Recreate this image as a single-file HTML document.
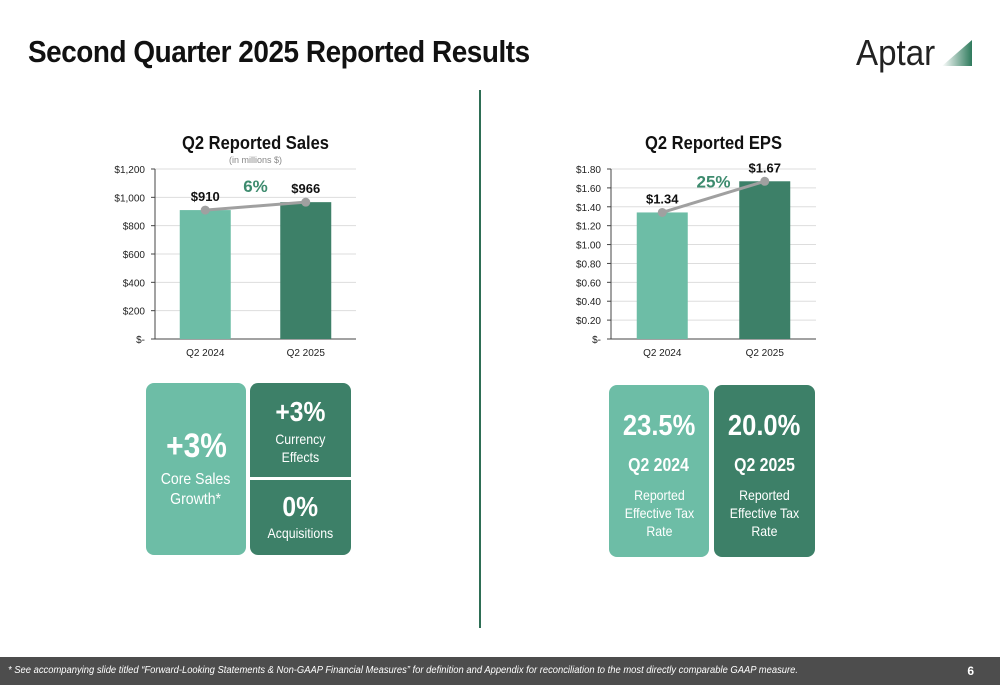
<!DOCTYPE html>
<html><head><meta charset="utf-8"><style>
body{margin:0;width:1000px;height:685px;position:relative;background:#fff;font-family:"Liberation Sans",sans-serif;overflow:hidden}
.abs{position:absolute}
.box{position:absolute;color:#fff;text-align:center;border-radius:8px}
.n{display:inline-block;transform:scaleX(0.88)}
</style></head><body>
<div class="abs" style="left:28px;top:34px;font-size:31px;font-weight:bold;color:#111;letter-spacing:-0.5px;transform:scaleX(0.9);transform-origin:0 0;white-space:nowrap">Second Quarter 2025 Reported Results</div>
<div class="abs" style="left:856px;top:30px;width:120px;height:45px">
<span style="font-size:36px;color:#222;position:absolute;left:0;top:2px;transform:scaleX(0.92);transform-origin:0 0">Aptar</span>
<svg style="position:absolute;left:86px;top:8px" width="33" height="30"><defs><linearGradient id="g" x1="0" x2="1"><stop offset="0" stop-color="#fff"/><stop offset="1" stop-color="#2e7a5c"/></linearGradient></defs><polygon points="0,28 30,2 30,28" fill="url(#g)"/></svg>
</div>
<div class="abs" style="left:479px;top:90px;width:2px;height:538px;background:#2e6e55"></div>

<svg class="abs" style="left:0;top:120px" width="1000" height="250" id="charts"></svg>

<div class="box" style="left:146px;top:383px;width:100px;height:172px;background:#6dbda6">
<div style="font-size:34px;font-weight:bold;margin-top:44px"><span class="n">+3%</span></div><div style="font-size:16px;margin-top:4px;line-height:20px"><span class="n">Core Sales<br>Growth*</span></div></div>
<div class="box" style="left:250px;top:383px;width:101px;height:94px;background:#3d8068;border-radius:8px 8px 0 0">
<div style="font-size:28px;font-weight:bold;margin-top:13px"><span class="n">+3%</span></div><div style="font-size:14px;line-height:18px;margin-top:2px"><span class="n">Currency<br>Effects</span></div></div>
<div class="box" style="left:250px;top:480px;width:101px;height:75px;background:#3d8068;border-radius:0 0 8px 8px">
<div style="font-size:28px;font-weight:bold;margin-top:11px"><span class="n">0%</span></div><div style="font-size:14px;margin-top:2px"><span class="n">Acquisitions</span></div></div>
<div class="box" style="left:609px;top:385px;width:100px;height:172px;background:#6dbda6">
<div style="font-size:29px;font-weight:bold;margin-top:25px"><span class="n">23.5%</span></div><div style="font-size:18px;font-weight:bold;margin-top:12px"><span class="n">Q2 2024</span></div><div style="font-size:14px;line-height:18px;margin-top:10px"><span class="n">Reported<br>Effective Tax<br>Rate</span></div></div>
<div class="box" style="left:714px;top:385px;width:101px;height:172px;background:#3d8068">
<div style="font-size:29px;font-weight:bold;margin-top:25px"><span class="n">20.0%</span></div><div style="font-size:18px;font-weight:bold;margin-top:12px"><span class="n">Q2 2025</span></div><div style="font-size:14px;line-height:18px;margin-top:10px"><span class="n">Reported<br>Effective Tax<br>Rate</span></div></div>

<div class="abs" style="left:0;top:657px;width:1000px;height:28px;background:#4d4d4d;color:#fff;font-size:10px;font-style:italic">
<span style="position:absolute;left:8px;top:8px;transform:scaleX(0.94);transform-origin:0 0;white-space:nowrap">* See accompanying slide titled “Forward-Looking Statements &amp; Non-GAAP Financial Measures” for definition and Appendix for reconciliation to the most directly comparable GAAP measure.</span>
<span style="position:absolute;right:26px;top:7px;font-style:normal;font-weight:bold;font-size:12px">6</span></div>

<script>
const categories=["Q2 2024","Q2 2025"];
const salesValues=[910,966];
const salesTicks=["$-","$200","$400","$600","$800","$1,000","$1,200"];
const salesLabels=["$910","$966"];
const salesGrowth="6%";
const epsValues=[1.34,1.67];
const epsTicks=["$-","$0.20","$0.40","$0.60","$0.80","$1.00","$1.20","$1.40","$1.60","$1.80"];
const epsLabels=["$1.34","$1.67"];
const epsGrowth="25%";
const NS="http://www.w3.org/2000/svg";
const svg=document.getElementById('charts');
function mk(t,a,txt){const e=document.createElementNS(NS,t);for(const k in a)e.setAttribute(k,a[k]);if(txt!=null)e.textContent=txt;svg.appendChild(e);return e;}
function chart(o){
 const y0=219,y1=49;
 const y=v=>y0-(v/o.max)*(y0-y1);
 const x=i=>o.left+(o.right-o.left)*(i+0.5)/categories.length;
 let t=mk('text',{x:(o.left+o.right)/2,y:29,'text-anchor':'middle','font-size':18,'font-weight':'bold',fill:'#111',textLength:o.titleLen,lengthAdjust:'spacingAndGlyphs'},o.title);
 
 if(o.sub){t=mk('text',{x:(o.left+o.right)/2,y:43,'text-anchor':'middle','font-size':9,fill:'#888'},o.sub);}
 o.ticks.forEach((lab,i)=>{const v=i*o.step,yy=y(v);
  if(i>0){const g=mk('line',{x1:o.left,x2:o.right,y1:yy,y2:yy,stroke:'#ddd'});}
  const tl=mk('text',{x:o.left-10,y:yy+4,'text-anchor':'end','font-size':10,fill:'#222'},lab);
  
  mk('line',{x1:o.left-4,x2:o.left,y1:yy,y2:yy,stroke:'#444'});
 });
 mk('line',{x1:o.left,x2:o.left,y1:y1,y2:y0,stroke:'#444'});
 mk('line',{x1:o.left,x2:o.right,y1:y0,y2:y0,stroke:'#444'});
 const bw=51,cols=['#6dbda6','#3d8068'];
 o.vals.forEach((v,i)=>{
  const b=mk('rect',{x:x(i)-bw/2,y:y(v),width:bw,height:y0-y(v),fill:cols[i]});
  
  const c=mk('text',{x:x(i),y:y0+17,'text-anchor':'middle','font-size':10,fill:'#222'},categories[i]);
  
 });
 const ln=mk('line',{x1:x(0),y1:y(o.vals[0]),x2:x(1),y2:y(o.vals[1]),stroke:'#a0a0a0','stroke-width':3});
 
 o.vals.forEach((v,i)=>{
  const p=mk('circle',{cx:x(i),cy:y(v),r:4.5,fill:'#a0a0a0'});
  const l=mk('text',{x:x(i),y:y(v)-9,'text-anchor':'middle','font-size':13,'font-weight':'bold',fill:'#111'},o.labels[i]);
  
 });
 const gx=(x(0)+x(1))/2, gy=Math.min(y(o.vals[0]),y(o.vals[1]))-10+o.gDy;
 const g=mk('text',{x:gx,y:gy,'text-anchor':'middle','font-size':17,'font-weight':'bold',fill:'#3d8b6e'},o.growth);
 
}
chart({id:'sales',title:'Q2 Reported Sales',titleLen:147,sub:'(in millions $)',left:155,right:356,max:1200,step:200,ticks:salesTicks,vals:salesValues,labels:salesLabels,growth:salesGrowth,gDy:0});
chart({id:'eps',title:'Q2 Reported EPS',titleLen:137,left:611,right:816,max:1.8,step:0.2,ticks:epsTicks,vals:epsValues,labels:epsLabels,growth:epsGrowth,gDy:16});
</script>
</body></html>
